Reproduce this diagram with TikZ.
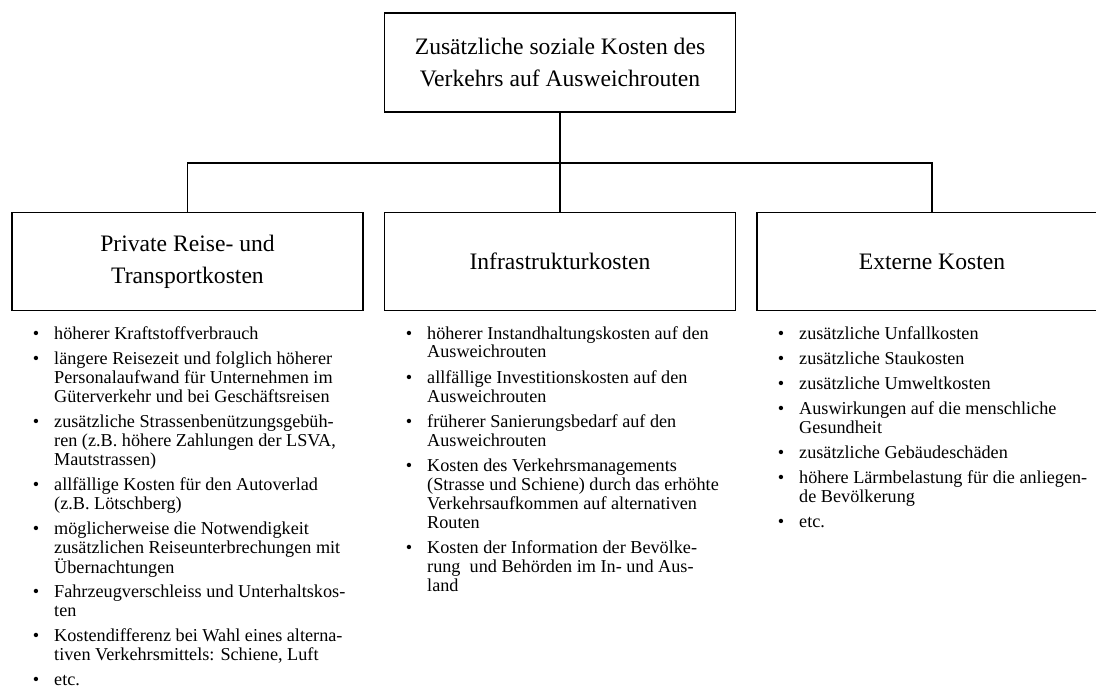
\documentclass[tikz,border=0pt]{standalone}
\usepackage{fontspec}
\setmainfont{Liberation Serif}
\newcommand\bul{\makebox[0pt][r]{\textbullet\hspace{15pt}}}
\newcommand\itm[1]{\begin{tabular}[t]{@{}l@{}}#1\end{tabular}}
\begin{document}
\begin{tikzpicture}[x=1pt,y=-1pt,
  box/.style={draw, line width=1.8pt, inner sep=0pt, minimum width=351pt, minimum height=98pt, align=center, font=\fontsize{23.6}{32}\selectfont},
  bitem/.style={anchor=base west, inner sep=0pt, font=\fontsize{18.2}{19}\selectfont},
  link/.style={line width=1.8pt}]
\useasboundingbox (0,0) rectangle (1096,695);
\clip (0,0) rectangle (1096,695);
\node[box, minimum height=99pt] (top) at (560,62.5) {Zusätzliche soziale Kosten des\\Verkehrs auf Ausweichrouten};
\node[box] (priv) at (187.5,261.5) {Private Reise- und\\Transportkosten};
\node[box] (infra) at (560,261.5) {Infrastrukturkosten};
\node[box, minimum width=350pt] (ext) at (932,261.5) {Externe Kosten};
\coordinate (j) at (560,163);
\draw[link] (top.south) -- (j);
\draw[link] (priv.north) |- (j) -| (ext.north);
\draw[link] (j) -- (infra.north);
% left column
\node[bitem] (l1) at (54,339) {\itm{\bul höherer Kraftstoffverbrauch}};
\node[bitem] (l2) at (54,364) {\itm{\bul längere Reisezeit und folglich höherer\\Personalaufwand für Unternehmen im\\Güterverkehr und bei Geschäftsreisen}};
\node[bitem] (l3) at (54,427) {\itm{\bul zusätzliche Strassenbenützungsgebüh-\\ren (z.B. höhere Zahlungen der LSVA,\\Mautstrassen)}};
\node[bitem] (l4) at (54,490) {\itm{\bul allfällige Kosten für den Autoverlad\\(z.B. Lötschberg)}};
\node[bitem] (l5) at (54,534) {\itm{\bul möglicherweise die Notwendigkeit\\zusätzlichen Reiseunterbrechungen mit\\Übernachtungen}};
\node[bitem] (l6) at (54,597) {\itm{\bul Fahrzeugverschleiss und Unterhaltskos-\\ten}};
\node[bitem] (l7) at (54,641) {\itm{\bul Kostendifferenz bei Wahl eines alterna-\\tiven Verkehrsmittels: Schiene, Luft}};
\node[bitem] (l8) at (54,685) {\itm{\bul etc.}};
% middle column
\node[bitem] (m1) at (427,339) {\itm{\bul höherer Instandhaltungskosten auf den\\Ausweichrouten}};
\node[bitem] (m2) at (427,383) {\itm{\bul allfällige Investitionskosten auf den\\Ausweichrouten}};
\node[bitem] (m3) at (427,427) {\itm{\bul früherer Sanierungsbedarf auf den\\Ausweichrouten}};
\node[bitem] (m4) at (427,471) {\itm{\bul Kosten des Verkehrsmanagements\\(Strasse und Schiene) durch das erhöhte\\Verkehrsaufkommen auf alternativen\\Routen}};
\node[bitem] (m5) at (427,553) {\itm{\bul Kosten der Information der Bevölke-\\rung~ und Behörden im In- und Aus-\\land}};
% right column
\node[bitem] (r1) at (799,339) {\itm{\bul zusätzliche Unfallkosten}};
\node[bitem] (r2) at (799,364) {\itm{\bul zusätzliche Staukosten}};
\node[bitem] (r3) at (799,389) {\itm{\bul zusätzliche Umweltkosten}};
\node[bitem] (r4) at (799,414) {\itm{\bul Auswirkungen auf die menschliche\\Gesundheit}};
\node[bitem] (r5) at (799,458) {\itm{\bul zusätzliche Gebäudeschäden}};
\node[bitem] (r6) at (799,483) {\itm{\bul höhere Lärmbelastung für die anliegen-\\de Bevölkerung}};
\node[bitem] (r7) at (799,527) {\itm{\bul etc.}};
\end{tikzpicture}
\end{document}
